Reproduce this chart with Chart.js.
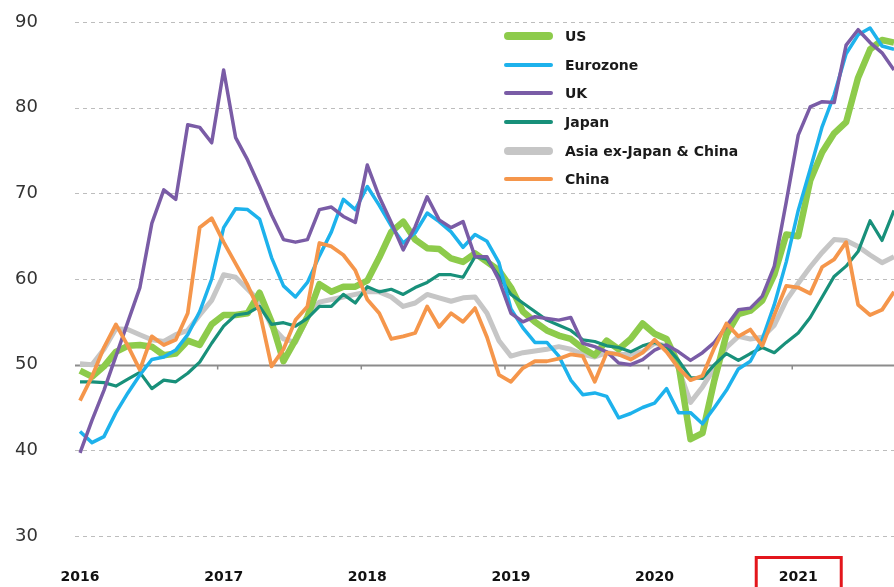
<!DOCTYPE html>
<html>
<head>
<meta charset="utf-8">
<script src="https://cdn.jsdelivr.net/npm/chart.js@4.4.1/dist/chart.umd.min.js"></script>
<style>
  html, body { margin: 0; padding: 0; background: #fff; }
  #wrap { position: relative; width: 894px; height: 587px; }
  #legend { position: absolute; left: 504px; top: 22px; font-family: "DejaVu Sans", sans-serif;
            font-weight: bold; font-size: 14px; color: #1a1a1a; }
  #legend div { height: 28.6px; display: flex; align-items: center; }
  #legend span.sw { display: inline-block; width: 49px; border-radius: 4px; margin-right: 12px; }
</style>
</head>
<body>
<div id="wrap">
  <canvas id="myChart" width="894" height="587"></canvas>
  <div id="legend"></div>
</div>
<script>
// monthly, Jan 2016 .. Sep 2021
var years = ['2016', '2017', '2018', '2019', '2020', '2021'];
var nMonths = 69;

var us = [49.3, 48.6, 49.8, 51.5, 52.2, 52.3, 52.1, 51.1, 51.3, 52.8, 52.3, 54.7,
  55.8, 55.8, 56.0, 58.4, 55.0, 50.4, 52.9, 55.6, 59.4, 58.5, 59.1, 59.1,
  59.8, 62.5, 65.5, 66.7, 64.6, 63.6, 63.5, 62.4, 62.0, 63.0, 62.0, 61.0,
  59.0, 56.2, 55.0, 54.0, 53.4, 53.0, 51.9, 51.1, 52.8, 51.8, 53.0, 54.8,
  53.6, 53.0, 50.0, 41.3, 42.0, 48.2, 53.5, 55.9, 56.3, 57.5, 60.5, 65.2,
  65.0, 71.5, 74.8, 77.0, 78.3, 83.5, 86.8, 87.9, 87.6];

var eurozone = [42.2, 40.9, 41.6, 44.4, 46.7, 48.8, 50.6, 50.9, 51.7, 53.5, 56.2, 60.0,
  66.0, 68.2, 68.1, 67.0, 62.5, 59.2, 57.9, 59.6, 62.7, 65.5, 69.3, 68.1,
  70.8, 68.6, 66.2, 64.2, 65.4, 67.7, 66.7, 65.5, 63.7, 65.2, 64.4, 61.9,
  56.5, 54.3, 52.6, 52.6, 51.0, 48.2, 46.5, 46.7, 46.3, 43.8, 44.3, 45.0,
  45.5, 47.2, 44.4, 44.4, 43.1, 45.0, 47.0, 49.5, 50.4, 53.0, 57.0, 62.0,
  68.0, 72.8, 77.8, 81.5, 86.3, 88.5, 89.3, 87.2, 86.8];

var uk = [39.7, 43.5, 47.0, 51.0, 55.0, 59.0, 66.5, 70.4, 69.3, 78.0, 77.7, 75.9,
  84.4, 76.5, 73.9, 70.8, 67.5, 64.6, 64.3, 64.6, 68.1, 68.4, 67.3, 66.6,
  73.3, 69.6, 66.6, 63.4, 66.1, 69.6, 66.9, 66.0, 66.7, 62.6, 62.6, 59.9,
  56.0, 55.0, 55.6, 55.4, 55.2, 55.5, 52.5, 52.1, 51.5, 50.2, 50.0, 50.6,
  51.7, 52.3, 51.5, 50.5, 51.4, 52.6, 54.5, 56.4, 56.6, 58.0, 61.5, 69.0,
  76.8, 80.1, 80.7, 80.6, 87.3, 89.1, 87.6, 86.4, 84.4];

var japan = [48.0, 48.0, 47.9, 47.5, 48.3, 49.1, 47.2, 48.2, 48.0, 49.0, 50.3, 52.5,
  54.5, 55.8, 56.0, 56.8, 54.7, 54.9, 54.5, 55.4, 56.8, 56.8, 58.2, 57.2,
  59.1, 58.5, 58.8, 58.2, 59.0, 59.6, 60.5, 60.5, 60.2, 62.6, 62.3, 60.3,
  58.2, 57.2, 56.2, 55.2, 54.6, 54.0, 52.9, 52.7, 52.2, 52.0, 51.5, 52.2,
  52.6, 52.1, 50.5, 48.5, 48.4, 50.0, 51.3, 50.5, 51.3, 52.0, 51.4, 52.6,
  53.7, 55.5, 57.9, 60.3, 61.5, 63.2, 66.8, 64.5, 68.0];

var asiaExJC = [50.1, 50.0, 51.8, 54.2, 54.1, 53.5, 52.9, 52.7, 53.5, 54.0, 55.8, 57.5,
  60.5, 60.2, 58.8, 57.4, 54.5, 53.0, 52.6, 55.5, 57.3, 57.6, 57.9, 58.2,
  58.5, 58.5, 57.9, 56.8, 57.2, 58.2, 57.8, 57.4, 57.8, 57.9, 56.0, 52.8,
  51.0, 51.4, 51.6, 51.8, 52.1, 51.8, 51.2, 50.9, 51.4, 51.2, 51.2, 51.5,
  52.5, 52.2, 49.5, 45.6, 47.4, 49.6, 52.0, 53.3, 53.0, 53.2, 54.6, 57.5,
  59.5, 61.4, 63.1, 64.6, 64.5, 63.8, 62.8, 61.9, 62.6];

var china = [45.8, 48.6, 52.0, 54.7, 52.2, 49.4, 53.3, 52.3, 52.9, 56.0, 66.0, 67.1,
  64.3, 61.8, 59.3, 56.2, 49.8, 51.8, 55.2, 56.8, 64.2, 63.8, 62.8, 61.0,
  57.6, 56.0, 53.0, 53.3, 53.7, 56.8, 54.4, 56.0, 55.0, 56.6, 53.2, 48.8,
  48.0, 49.6, 50.4, 50.4, 50.7, 51.2, 51.0, 48.0, 51.4, 51.2, 50.6, 51.4,
  52.9, 51.5, 49.6, 48.2, 48.7, 52.0, 54.8, 53.3, 54.1, 52.2, 55.8, 59.2,
  59.0, 58.3, 61.4, 62.3, 64.3, 57.0, 55.8, 56.4, 58.5];

var labels = [];
for (var i = 0; i < nMonths; i++) {
  labels.push(years[Math.floor(i / 12)] + '-' + (i % 12 + 1));
}

var series = [
  {label: 'US', data: us, color: '#8DCB4B', width: 6.5, order: 5},
  {label: 'Eurozone', data: eurozone, color: '#1DB2EC', width: 3.5, order: 3},
  {label: 'UK', data: uk, color: '#7A5CA6', width: 3.5, order: 2},
  {label: 'Japan', data: japan, color: '#18907A', width: 3.2, order: 4},
  {label: 'Asia ex-Japan & China', data: asiaExJC, color: '#C6C6C6', width: 5, order: 6},
  {label: 'China', data: china, color: '#F5964B', width: 3.8, order: 1}
];

// dashed grid, solid 50 line with small year ticks
var gridDash = {
  id: 'gridDash',
  beforeDatasetsDraw: function(c) {
    var y = c.scales.y, a = c.chartArea, g = c.ctx;
    g.save();
    y.ticks.forEach(function(t) {
      var py = Math.round(y.getPixelForValue(t.value)) + 0.5;
      g.beginPath();
      if (t.value === 50) {
        g.setLineDash([]);
        g.strokeStyle = '#8c8c8c';
        g.lineWidth = 2;
      } else {
        g.setLineDash([4, 4]);
        g.strokeStyle = '#bdbdbd';
        g.lineWidth = 1;
      }
      g.moveTo(a.left - 5, py);
      g.lineTo(a.right, py);
      g.stroke();
      if (t.value === 50) {
        g.lineWidth = 1.5;
        for (var k = 1; k < years.length; k++) {
          var px = c.scales.x.getPixelForValue(k * 12) - 6;
          g.beginPath();
          g.moveTo(px, py);
          g.lineTo(px, py + 4);
          g.stroke();
        }
      }
    });
    g.restore();
  }
};

var redBox = {
  id: 'redBox',
  afterDraw: function(chart) {
    var ctx = chart.ctx;
    var x = chart.scales.x.getPixelForValue(60);
    ctx.save();
    ctx.strokeStyle = '#E3161C';
    ctx.lineWidth = 3;
    ctx.strokeRect(x - 42, 557.5, 85, 40);
    ctx.restore();
  }
};

var ctx = document.getElementById('myChart').getContext('2d');
var chart = new Chart(ctx, {
  type: 'line',
  data: {
    labels: labels,
    datasets: series.map(function(s) {
      return {
        label: s.label,
        data: s.data,
        borderColor: s.color,
        backgroundColor: s.color,
        borderWidth: s.width,
        pointRadius: 0,
        tension: 0,
        borderJoinStyle: 'round',
        order: s.order
      };
    })
  },
  options: {
    responsive: false,
    animation: false,
    layout: {padding: {left: 15, top: 22, right: 0, bottom: 0}},
    plugins: {legend: {display: false}, tooltip: {enabled: false}},
    scales: {
      x: {
        offset: false,
        border: {display: false},
        grid: {display: false, drawTicks: false},
        afterFit: function(s) {
          s.height = 51;
          s.paddingLeft = 0;
          s.paddingRight = 0;
        },
        ticks: {
          autoSkip: false, maxRotation: 0, minRotation: 0, padding: 33,
          color: '#111',
          font: {family: 'DejaVu Sans', size: 14, weight: 'bold'},
          callback: function(v, idx) { return idx % 12 === 0 ? years[idx / 12] : ''; }
        }
      },
      y: {
        min: 30, max: 90,
        border: {display: false},
        afterFit: function(s) { s.width = 65; },
        grid: {display: false, drawTicks: false},
        ticks: {
          stepSize: 10, crossAlign: 'far', padding: 0,
          color: '#333',
          font: {family: 'DejaVu Sans', size: 18}
        }
      }
    }
  },
  plugins: [gridDash, redBox]
});

var lg = document.getElementById('legend');
series.forEach(function(s) {
  var row = document.createElement('div');
  var sw = document.createElement('span');
  sw.className = 'sw';
  sw.style.height = (s.width > 4.5 ? 8 : 4) + 'px';
  sw.style.background = s.color;
  row.appendChild(sw);
  row.appendChild(document.createTextNode(s.label));
  lg.appendChild(row);
});
</script>
</body>
</html>
